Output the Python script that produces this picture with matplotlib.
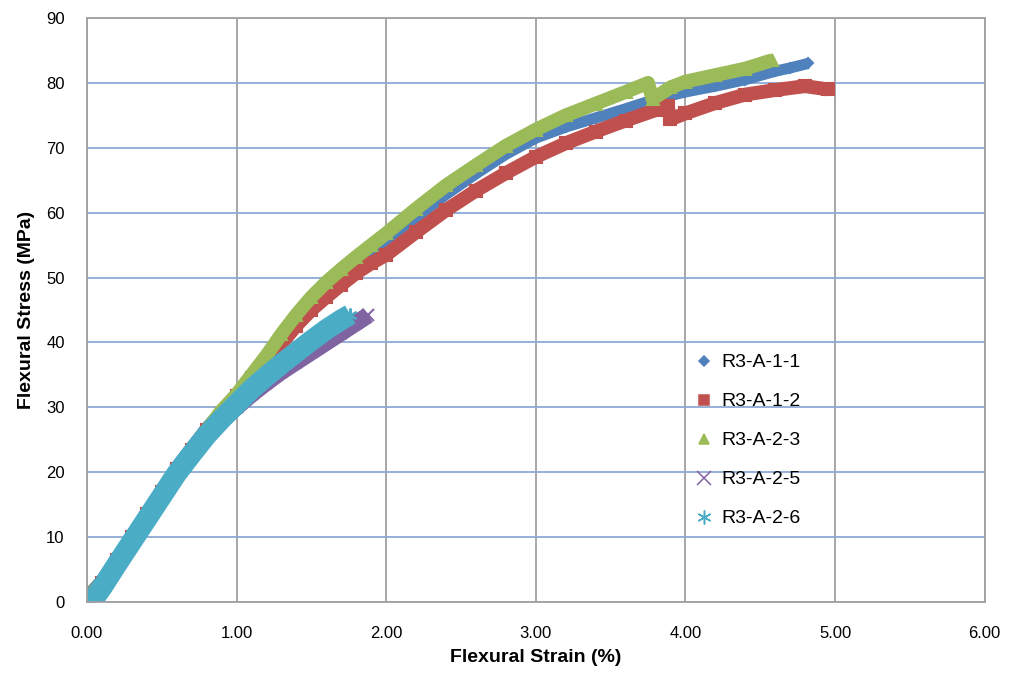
import matplotlib

matplotlib.use("Agg")
import matplotlib.pyplot as plt

# strain (%) / stress (MPa)
a11_strain = [0.00, 0.10, 0.20, 0.30, 0.40, 0.50, 0.60, 0.70, 0.80, 0.90, 1.00, 1.10, 1.20,
              1.30, 1.40, 1.50, 1.60, 1.70, 1.80, 1.90, 2.00, 2.20, 2.40, 2.60, 2.80, 3.00,
              3.20, 3.40, 3.60, 3.80, 4.00, 4.20, 4.40, 4.60, 4.70, 4.82]
a11_stress = [1.0, 3.5, 7.0, 10.5, 14.0, 17.5, 21.0, 24.0, 27.0, 29.5, 32.0, 35.0, 38.0,
              41.0, 43.8, 46.3, 48.5, 50.5, 52.3, 54.0, 55.8, 59.3, 62.8, 66.0, 69.0, 71.5,
              73.2, 74.6, 76.0, 77.5, 78.6, 79.5, 80.5, 81.8, 82.3, 83.0]

a12_strain = [0.00, 0.10, 0.20, 0.30, 0.40, 0.50, 0.60, 0.70, 0.80, 0.90, 1.00, 1.10, 1.20,
              1.30, 1.40, 1.50, 1.60, 1.70, 1.80, 1.90, 2.00, 2.20, 2.40, 2.60, 2.80, 3.00,
              3.20, 3.40, 3.60, 3.80, 3.88, 3.90, 4.00, 4.20, 4.40, 4.60, 4.80, 4.95]
a12_stress = [0.5, 3.0, 6.5, 10.0, 13.5, 17.0, 20.5, 23.5, 26.5, 29.0, 31.8, 34.5, 37.0,
              39.8, 42.6, 45.0, 47.0, 48.9, 50.7, 52.2, 53.5, 57.0, 60.4, 63.4, 66.1, 68.6,
              70.7, 72.5, 74.2, 75.8, 76.5, 74.4, 75.3, 76.9, 78.2, 78.9, 79.5, 79.0]

a23_strain = [0.00, 0.10, 0.20, 0.30, 0.40, 0.50, 0.60, 0.70, 0.80, 0.90, 1.00, 1.10, 1.20,
              1.30, 1.40, 1.50, 1.60, 1.70, 1.80, 1.90, 2.00, 2.20, 2.40, 2.60, 2.80, 3.00,
              3.20, 3.40, 3.60, 3.75, 3.78, 3.90, 4.00, 4.20, 4.40, 4.58]
a23_stress = [0.5, 3.0, 6.5, 10.0, 13.5, 17.0, 20.5, 23.5, 26.5, 29.5, 32.0, 35.0, 38.0,
              41.3, 44.3, 47.0, 49.3, 51.3, 53.2, 55.0, 56.8, 60.6, 64.2, 67.3, 70.3, 72.8,
              75.0, 76.8, 78.6, 80.0, 77.5, 79.3, 80.2, 81.2, 82.2, 83.5]

a25_strain = [0.00, 0.10, 0.20, 0.30, 0.40, 0.50, 0.60, 0.70, 0.80, 0.90, 1.00, 1.10, 1.20,
              1.30, 1.40, 1.50, 1.60, 1.70, 1.80, 1.88]
a25_stress = [0.0, 2.5, 6.0, 9.5, 13.0, 16.5, 20.0, 23.0, 25.8, 28.0, 30.0, 32.0, 33.8,
              35.5, 37.0, 38.5, 40.0, 41.5, 43.0, 44.2]

a26_strain = [0.03, 0.10, 0.20, 0.30, 0.40, 0.50, 0.60, 0.70, 0.80, 0.90, 1.00, 1.10, 1.20,
              1.30, 1.40, 1.50, 1.60, 1.70, 1.76]
a26_stress = [0.0, 2.2, 5.8, 9.3, 12.8, 16.3, 19.8, 22.8, 25.7, 28.2, 30.5, 32.8, 34.8,
              36.7, 38.5, 40.3, 42.0, 43.5, 44.3]

series = [
    ("R3-A-1-1", a11_strain, a11_stress, "#4F81BD", "D", 5, 8),
    ("R3-A-1-2", a12_strain, a12_stress, "#C0504D", "s", 8, 10),
    ("R3-A-2-3", a23_strain, a23_stress, "#9BBB59", "^", 9, 10),
    ("R3-A-2-5", a25_strain, a25_stress, "#8064A2", "x", 9, 12),
    ("R3-A-2-6", a26_strain, a26_stress, "#4BACC6", (6, 2, 0), 10, 15),
]

plt.rcParams["font.family"] = ["Liberation Sans", "DejaVu Sans"]

fig = plt.figure(figsize=(10.11, 6.79), dpi=100)
ax = fig.add_axes([0.086, 0.1134, 0.888, 0.8601])

for name, xs, ys, color, marker, ms, lw in series:
    ax.plot(xs, ys, color=color, linewidth=lw, solid_capstyle="butt", zorder=2)
    ax.plot(xs, ys, linestyle="none", marker=marker, markersize=ms, color=color,
            markeredgecolor=color, markeredgewidth=1.5, zorder=2)
    # legend handle only
    ax.plot([], [], linestyle="none", marker=marker, color=color, label=name,
            markersize={"D": 5, "s": 7, "^": 7}.get(marker, 10) if isinstance(marker, str) else 10,
            markeredgewidth=1.1)

ax.set_xlim(0, 6)
ax.set_ylim(0, 90)
ax.set_xticks([0, 1, 2, 3, 4, 5, 6])
ax.set_xticklabels([f"{v:.2f}" for v in range(7)])
ax.set_yticks(range(0, 91, 10))
ax.tick_params(axis="x", labelsize=12, length=0, pad=17)
ax.tick_params(axis="y", labelsize=12, length=0, pad=16)

ax.yaxis.grid(True, color="#8EA9D5", linewidth=1.3)
ax.xaxis.grid(True, color="#A0A0A0", linewidth=1.3)
ax.set_axisbelow(True)
for sp in ax.spines.values():
    sp.set_color("#A0A0A0")
    sp.set_linewidth(1.3)

ax.set_xlabel("Flexural Strain (%)", fontsize=14, fontweight="bold", labelpad=6)
ax.set_ylabel("Flexural Stress (MPa)", fontsize=14, fontweight="bold", labelpad=8)

ax.legend(loc="upper left", bbox_to_anchor=(0.655, 0.455), frameon=False, fontsize=14,
          labelspacing=1.1, handletextpad=0.3, handlelength=1.2)

fig.savefig("out.png", dpi=100)
